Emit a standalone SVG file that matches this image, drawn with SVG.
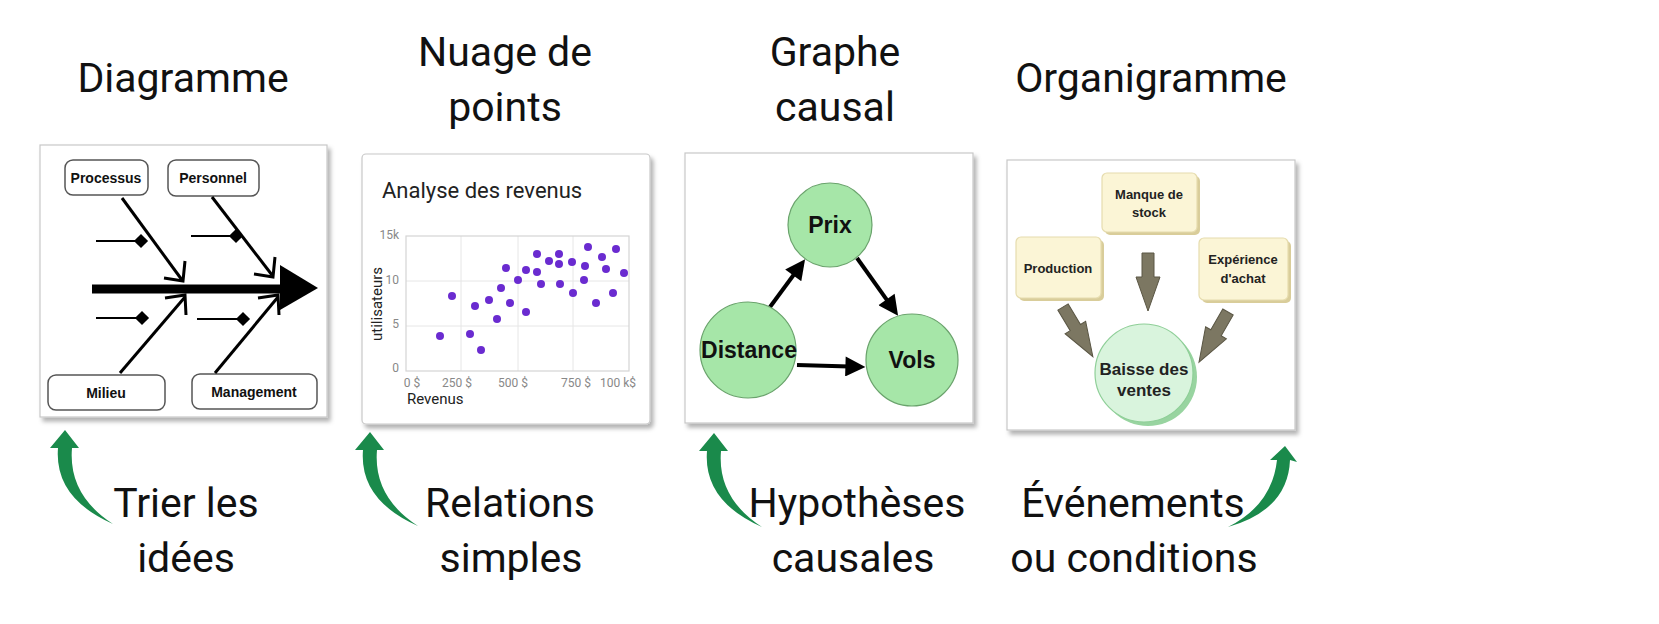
<svg xmlns="http://www.w3.org/2000/svg" width="1659" height="624" viewBox="0 0 1659 624">
<style>
.ttl{font-family:Roboto,"Liberation Sans",sans-serif;font-size:41px;fill:#111;text-anchor:middle}
.panel{fill:#fff;stroke:#c8c8c8;stroke-width:1.2}
.fbox{fill:#fff;stroke:#555;stroke-width:1.5}
.ftxt{font-family:"Liberation Sans",Arial,sans-serif;font-weight:bold;font-size:14px;fill:#111;text-anchor:middle}
.bone{stroke:#000;stroke-width:3;fill:none}
.chev{stroke:#000;stroke-width:3;fill:none;stroke-linejoin:miter}
.rib{stroke:#000;stroke-width:1.8}
.tick{font-family:Roboto,"Liberation Sans",sans-serif;font-size:12px;fill:#888}
.grid{stroke:#e6e6e6;stroke-width:1}
.dot{fill:#6a2bd0}
.gnode{fill:#a6e6a8;stroke:#6aa36c;stroke-width:1.2}
.gtxt{font-family:"Liberation Sans",Arial,sans-serif;font-weight:bold;font-size:23px;fill:#111;text-anchor:middle}
.carrow{stroke:#000;stroke-width:4;fill:none;marker-end:url(#tri)}
.obox{fill:#fbf5d6;stroke:#e6dcae;stroke-width:1.2}
.osh{fill:#d9cd9a}
.otxt{font-family:"Liberation Sans",Arial,sans-serif;font-weight:bold;font-size:13px;fill:#222;text-anchor:middle}
.green{fill:#1a8a4b}
</style>
<defs>
<filter id="sh" x="-5%" y="-5%" width="115%" height="115%">
<feDropShadow dx="3" dy="4" stdDeviation="2" flood-color="#000" flood-opacity="0.3"/>
</filter>
<marker id="tri" viewBox="0 0 10 10" refX="2" refY="5" markerWidth="5.5" markerHeight="5" orient="auto" markerUnits="strokeWidth">
<path d="M0,0 L10,5 L0,10 Z" fill="#000"/>
</marker>
<path id="blk" d="M-6,0 L6,0 L6,24 L12,24 L0,58 L-12,24 L-6,24 Z" fill="#7c7762" stroke="#5a5644" stroke-width="1"/>
<path id="garrow" d="M65,430 L79,448 L72,448 Q68,495 113,524 Q54,498 58,448 L50,448 Z"/>
<rect id="dia" x="-5" y="-5" width="10" height="10" transform="rotate(45)"/>
</defs>

<!-- Titles -->
<g id="titles">
<text class="ttl" x="183" y="92">Diagramme</text>
<text class="ttl" x="505" y="66">Nuage de</text>
<text class="ttl" x="505" y="121">points</text>
<text class="ttl" x="835" y="66">Graphe</text>
<text class="ttl" x="835" y="121">causal</text>
<text class="ttl" x="1151" y="92">Organigramme</text>
</g>

<!-- Panel 1: fishbone -->
<g id="fishbone">
<rect class="panel" x="40" y="145" width="287" height="272" filter="url(#sh)"/>
<g id="fb-processus"><rect class="fbox" x="65" y="160" width="83" height="35" rx="8"/><text class="ftxt" x="106" y="183">Processus</text></g>
<g id="fb-personnel"><rect class="fbox" x="168" y="160" width="91" height="36" rx="8"/><text class="ftxt" x="213" y="183">Personnel</text></g>
<g id="fb-milieu"><rect class="fbox" x="48" y="375" width="117" height="35" rx="8"/><text class="ftxt" x="106" y="398">Milieu</text></g>
<g id="fb-management"><rect class="fbox" x="192" y="374" width="125" height="35" rx="8"/><text class="ftxt" x="254" y="397">Management</text></g>
<g id="fb-connectors">
<line x1="92" y1="289" x2="284" y2="289" stroke="#000" stroke-width="9"/>
<polygon points="280,265 318,288 280,310"/>
<line class="bone" x1="122" y1="198" x2="182" y2="280"/>
<polyline class="chev" points="164,278 183,281 185,261"/>
<line class="bone" x1="212" y1="197" x2="272" y2="275"/>
<polyline class="chev" points="254,274 273,277 275,257"/>
<line class="bone" x1="120" y1="373" x2="185" y2="297"/>
<polyline class="chev" points="165,298 185,295 186,315"/>
<line class="bone" x1="215" y1="373" x2="278" y2="297"/>
<polyline class="chev" points="258,298 278,295 279,315"/>
<line class="rib" x1="96" y1="241" x2="140" y2="241"/><use href="#dia" x="141" y="241"/>
<line class="rib" x1="191" y1="236" x2="235" y2="236"/><use href="#dia" x="236" y="236"/>
<line class="rib" x1="96" y1="318" x2="141" y2="318"/><use href="#dia" x="142" y="318"/>
<line class="rib" x1="197" y1="319" x2="242" y2="319"/><use href="#dia" x="243" y="319"/>
</g>
</g>

<!-- Panel 2: scatter -->
<g id="scatter">
<rect class="panel" x="362" y="154" width="288" height="270" rx="4" filter="url(#sh)"/>
<text x="382" y="198" font-family="Roboto,'Liberation Sans',sans-serif" font-size="22" fill="#222">Analyse des revenus</text>
<line class="grid" x1="461" y1="236" x2="461" y2="371"/>
<line class="grid" x1="518" y1="236" x2="518" y2="371"/>
<line class="grid" x1="573" y1="236" x2="573" y2="371"/>
<line class="grid" x1="406" y1="281" x2="629" y2="281"/>
<line class="grid" x1="406" y1="326" x2="629" y2="326"/>
<rect x="406" y="236" width="223" height="135" fill="none" stroke="#d4d4d4" stroke-width="1.2"/>
<text class="tick" x="399" y="239" text-anchor="end">15k</text>
<text class="tick" x="399" y="284" text-anchor="end">10</text>
<text class="tick" x="399" y="328" text-anchor="end">5</text>
<text class="tick" x="399" y="372" text-anchor="end">0</text>
<text class="tick" x="412" y="387" text-anchor="middle">0 $</text>
<text class="tick" x="457" y="387" text-anchor="middle">250 $</text>
<text class="tick" x="513" y="387" text-anchor="middle">500 $</text>
<text class="tick" x="576" y="387" text-anchor="middle">750 $</text>
<text class="tick" x="618" y="387" text-anchor="middle">100 k$</text>
<text x="407" y="404" font-family="Roboto,'Liberation Sans',sans-serif" font-size="15" fill="#222">Revenus</text>
<text transform="translate(382,304) rotate(-90)" text-anchor="middle" font-family="Roboto,'Liberation Sans',sans-serif" font-size="15" fill="#222">utilisateurs</text>
<g id="dots">
<circle class="dot" cx="440" cy="336" r="4"/><circle class="dot" cx="452" cy="296" r="4"/>
<circle class="dot" cx="470" cy="334" r="4"/><circle class="dot" cx="475" cy="306" r="4"/>
<circle class="dot" cx="481" cy="350" r="4"/><circle class="dot" cx="489" cy="300" r="4"/>
<circle class="dot" cx="497" cy="319" r="4"/><circle class="dot" cx="501" cy="288" r="4"/>
<circle class="dot" cx="506" cy="268" r="4"/><circle class="dot" cx="510" cy="303" r="4"/>
<circle class="dot" cx="518" cy="280" r="4"/><circle class="dot" cx="526" cy="270" r="4"/>
<circle class="dot" cx="526" cy="312" r="4"/><circle class="dot" cx="537" cy="254" r="4"/>
<circle class="dot" cx="537" cy="272" r="4"/><circle class="dot" cx="541" cy="284" r="4"/>
<circle class="dot" cx="549" cy="261" r="4"/><circle class="dot" cx="559" cy="254" r="4"/>
<circle class="dot" cx="559" cy="264" r="4"/><circle class="dot" cx="560" cy="284" r="4"/>
<circle class="dot" cx="572" cy="262" r="4"/><circle class="dot" cx="573" cy="293" r="4"/>
<circle class="dot" cx="585" cy="266" r="4"/><circle class="dot" cx="584" cy="280" r="4"/>
<circle class="dot" cx="588" cy="247" r="4"/><circle class="dot" cx="596" cy="303" r="4"/>
<circle class="dot" cx="602" cy="257" r="4"/><circle class="dot" cx="606" cy="269" r="4"/>
<circle class="dot" cx="613" cy="293" r="4"/><circle class="dot" cx="616" cy="249" r="4"/>
<circle class="dot" cx="624" cy="273" r="4"/>
</g>
</g>

<!-- Panel 3: causal graph -->
<g id="causal">
<rect class="panel" x="685" y="153" width="288" height="270" filter="url(#sh)"/>
<g id="causal-connectors">
<line class="carrow" x1="770" y1="307" x2="795.6" y2="272.2"/>
<line class="carrow" x1="857" y1="258" x2="888.8" y2="302.7"/>
<line class="carrow" x1="797" y1="365" x2="849.4" y2="366.5"/>
</g>
<g id="node-prix"><circle class="gnode" cx="830" cy="225" r="42"/><text class="gtxt" x="830" y="233">Prix</text></g>
<g id="node-distance"><circle class="gnode" cx="748" cy="350" r="48"/><text class="gtxt" x="749" y="358">Distance</text></g>
<g id="node-vols"><circle class="gnode" cx="912" cy="360" r="46"/><text class="gtxt" x="912" y="368">Vols</text></g>
</g>

<!-- Panel 4: organigramme -->
<g id="organigramme">
<rect class="panel" x="1007" y="160" width="288" height="270" filter="url(#sh)"/>
<g id="org-manque"><rect class="osh" x="1105" y="176" width="95" height="59" rx="5"/><rect class="obox" x="1102" y="173" width="95" height="59" rx="5"/><text class="otxt" x="1149" y="199">Manque de</text><text class="otxt" x="1149" y="217">stock</text></g>
<g id="org-production"><rect class="osh" x="1019" y="240" width="85" height="61" rx="5"/><rect class="obox" x="1016" y="237" width="85" height="61" rx="5"/><text class="otxt" x="1058" y="273">Production</text></g>
<g id="org-experience"><rect class="osh" x="1202" y="241" width="89" height="62" rx="5"/><rect class="obox" x="1199" y="238" width="89" height="62" rx="5"/><text class="otxt" x="1243" y="264">Expérience</text><text class="otxt" x="1243" y="283">d'achat</text></g>
<g id="org-connectors">
<use href="#blk" transform="translate(1148,253)"/>
<use href="#blk" transform="translate(1063,307) rotate(-31)"/>
<use href="#blk" transform="translate(1228,312) rotate(30)"/>
</g>
<g id="org-baisse"><circle cx="1148" cy="377" r="49" fill="#98d4a0"/><circle cx="1144" cy="373" r="49" fill="#d9f4dd" stroke="#8fcf98" stroke-width="1.2"/><text class="otxt" style="font-size:17px" x="1144" y="375">Baisse des</text><text class="otxt" style="font-size:17px" x="1144" y="396">ventes</text></g>
</g>

<!-- Green arrows -->
<g id="green-arrows">
<use class="green" href="#garrow"/>
<use class="green" href="#garrow" transform="translate(305,2)"/>
<use class="green" href="#garrow" transform="translate(649,3)"/>
<path class="green" d="M1285,446 L1297,462 L1290,460 Q1288,510 1228,527 Q1272,505 1277,460 L1270,460 Z"/>
</g>

<!-- Bottom labels -->
<g id="labels">
<text class="ttl" x="186" y="517">Trier les</text>
<text class="ttl" x="186" y="572">idées</text>
<text class="ttl" x="510" y="517">Relations</text>
<text class="ttl" x="511" y="572">simples</text>
<text class="ttl" x="857" y="517">Hypothèses</text>
<text class="ttl" x="853" y="572">causales</text>
<text class="ttl" x="1133" y="517">Événements</text>
<text class="ttl" x="1134" y="572">ou conditions</text>
</g>
</svg>
